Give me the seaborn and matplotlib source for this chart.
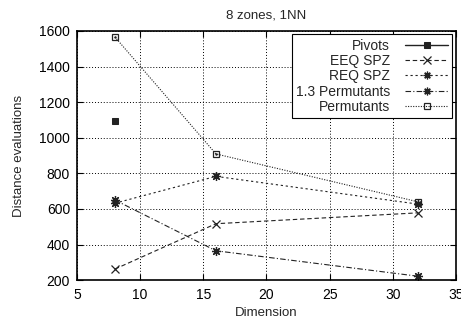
import numpy as np
import pandas as pd
import matplotlib
matplotlib.use('Agg')
import matplotlib.pyplot as plt
import seaborn as sns

# values
dims = [8, 16, 32]
pivots_dims = [8]
pivots = [1092]
eeq_spz = [262, 517, 578]
req_spz = [632, 783, 627]
perm13 = [650, 365, 222]
permutants = [1566, 909, 640]

sns.set_style('ticks')
plt.rcParams['font.family'] = ['Liberation Sans', 'DejaVu Sans']
plt.rcParams['font.size'] = 10

fig = plt.figure(figsize=(4.61, 3.22), dpi=100)
ax = fig.add_axes([0.167, 0.130, 0.822, 0.774])

star = (8, 2, 0)
c = '#222222'

sns.lineplot(x=pivots_dims, y=pivots, ax=ax, color=c, lw=1.0, marker='s',
             markersize=5, markeredgecolor=c, label='Pivots')
sns.lineplot(x=dims, y=eeq_spz, ax=ax, color=c, lw=0.8, marker='x',
             markersize=6, markeredgecolor=c, markeredgewidth=0.9,
             dashes=(4, 2.5), label='EEQ SPZ')
sns.lineplot(x=dims, y=req_spz, ax=ax, color=c, lw=0.8, marker=star,
             markersize=6.5, markeredgecolor=c, markeredgewidth=0.9,
             dashes=(2, 2.5), label='REQ SPZ')
sns.lineplot(x=dims, y=perm13, ax=ax, color=c, lw=0.8, marker=star,
             markersize=6.5, markeredgecolor=c, markeredgewidth=0.9,
             dashes=(5, 2, 1, 2), label='1.3 Permutants')
sns.lineplot(x=dims, y=permutants, ax=ax, color=c, lw=0.8, marker='s',
             markersize=5, markerfacecolor='none', markeredgecolor=c,
             markeredgewidth=0.9, dashes=(1, 1.3), label='Permutants')
# little dot inside the open squares
ax.plot(dims, permutants, ls='none', marker='.', ms=1.5, color=c)

ax.set_xlim(5, 35)
ax.set_ylim(200, 1600)
ax.set_xticks(np.arange(5, 36, 5))
ax.set_yticks(np.arange(200, 1601, 200))
ax.tick_params(direction='in', top=True, right=True, length=4, width=0.8,
               labelsize=10, colors='black')
ax.tick_params(axis='x', pad=6)
ax.tick_params(axis='y', pad=5)
ax.grid(True, ls=(0, (1, 2)), color='black', lw=0.7)
for s in ax.spines.values():
    s.set_linewidth(1.2)
    s.set_color('black')

ax.set_title('8 zones, 1NN', fontsize=9.5, pad=9)
ax.set_xlabel('Dimension', fontsize=9.5, labelpad=3)
ax.set_ylabel('Distance evaluations', fontsize=9.5, labelpad=10)

leg = ax.legend(loc='upper right', markerfirst=False, fontsize=10,
                handlelength=3.1, handletextpad=1.1, labelspacing=0.1,
                borderaxespad=0.25, borderpad=0.3, fancybox=False,
                framealpha=1, edgecolor='black', markerscale=0.85)
leg.get_frame().set_linewidth(0.8)
leg._legend_box.align = 'right'
for t in leg.get_texts():
    t.set_ha('right')

fig.savefig('out.png', dpi=100)
